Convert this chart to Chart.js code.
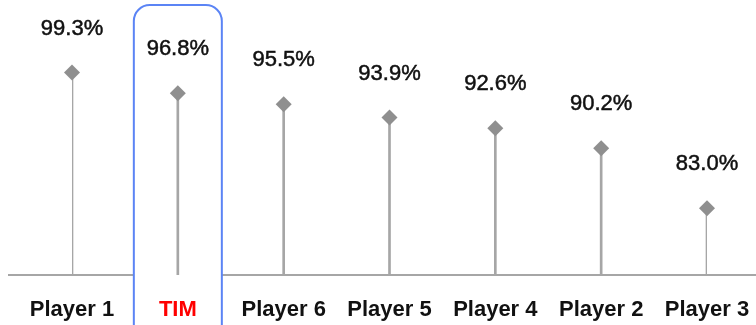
<!DOCTYPE html>
<html>
<head>
<meta charset="utf-8">
<script src="https://cdn.jsdelivr.net/npm/chart.js@4/dist/chart.umd.min.js"></script>
<style>
  html, body { margin: 0; padding: 0; background: #ffffff; }
  #wrap { width: 756px; height: 325px; position: relative; }
</style>
</head>
<body>
<div id="wrap"><canvas id="c" width="756" height="325"></canvas></div>
<script>
// Players ranked by score
const players = ['Player 1', 'TIM', 'Player 6', 'Player 5', 'Player 4', 'Player 2', 'Player 3'];
const scores = [99.3, 96.8, 95.5, 93.9, 92.6, 90.2, 83.0];
const highlighted = 'TIM';

const STEM = '#a6a6a6';
const DIAMOND = '#8f8f8f';
const BOX = '#5b84f5';

// Baseline plus the rounded highlight frame, painted beneath ticks and marks
const backdrop = {
  id: 'backdrop',
  beforeDraw(chart) {
    const { ctx, scales } = chart;
    const y0 = scales.y.getPixelForValue(scales.y.min);
    ctx.save();
    ctx.strokeStyle = STEM;
    ctx.lineWidth = 2;
    ctx.beginPath();
    ctx.moveTo(8, y0);
    ctx.lineTo(chart.width, y0);
    ctx.stroke();

    const idx = players.indexOf(highlighted);
    const cx = scales.x.getPixelForValue(idx);
    const w = 88, top = 5, r = 16;
    const left = cx - w / 2, right = cx + w / 2, bottom = chart.height + 20;
    ctx.beginPath();
    ctx.moveTo(left, bottom);
    ctx.lineTo(left, top + r);
    ctx.arcTo(left, top, left + r, top, r);
    ctx.lineTo(right - r, top);
    ctx.arcTo(right, top, right, top + r, r);
    ctx.lineTo(right, bottom);
    ctx.closePath();
    ctx.fillStyle = '#ffffff';
    ctx.fill();
    ctx.strokeStyle = BOX;
    ctx.lineWidth = 2;
    ctx.stroke();
    ctx.restore();
  }
};

// Percentage labels above each diamond
const valueLabels = {
  id: 'valueLabels',
  afterDatasetsDraw(chart) {
    const { ctx } = chart;
    const meta = chart.getDatasetMeta(1);
    ctx.save();
    ctx.font = '22px "Liberation Sans", Arial, sans-serif';
    ctx.fillStyle = '#111111';
    ctx.strokeStyle = '#111111';
    ctx.lineWidth = 0.5;
    ctx.textAlign = 'center';
    ctx.textBaseline = 'middle';
    meta.data.forEach((pt, i) => {
      const txt = scores[i].toFixed(1) + '%';
      ctx.fillText(txt, pt.x, pt.y - 44);
      ctx.strokeText(txt, pt.x, pt.y - 44);
    });
    ctx.restore();
  }
};

new Chart(document.getElementById('c'), {
  data: {
    labels: players,
    datasets: [
      {
        type: 'bar',
        data: scores,
        backgroundColor: STEM,
        barThickness: 2,
        order: 2
      },
      {
        type: 'line',
        data: scores,
        showLine: false,
        pointStyle: 'rectRot',
        pointRadius: 8,
        pointHoverRadius: 8,
        pointBackgroundColor: DIAMOND,
        pointBorderColor: DIAMOND,
        pointBorderWidth: 0,
        order: 1
      }
    ]
  },
  options: {
    responsive: false,
    animation: false,
    events: [],
    layout: { autoPadding: false, padding: { left: 72, right: 49, top: 0, bottom: 0 } },
    plugins: { legend: { display: false }, tooltip: { enabled: false } },
    scales: {
      x: {
        offset: false,
        grid: { display: false, drawTicks: false },
        border: { display: false },
        afterFit(scale) {
          scale.height = 50;
          scale.paddingLeft = 0;
          scale.paddingRight = 0;
        },
        ticks: {
          padding: 22,
          autoSkip: false,
          maxRotation: 0,
          font: { family: '"Liberation Sans", Arial, sans-serif', size: 22, weight: 'bold' },
          color: (c) => players[c.index] === highlighted ? '#ff0000' : '#111111'
        }
      },
      y: {
        display: false,
        min: 75,
        max: 108
      }
    }
  },
  plugins: [backdrop, valueLabels]
});
</script>
</body>
</html>
